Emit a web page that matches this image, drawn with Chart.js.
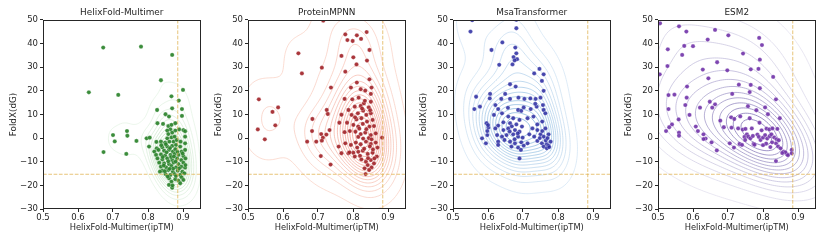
<!DOCTYPE html>
<html><head><meta charset="utf-8">
<script src="https://cdn.jsdelivr.net/npm/chart.js@4/dist/chart.umd.min.js"></script>
<style>
html,body{margin:0;padding:0;background:#fff;}
#wrap{position:relative;width:830px;height:242px;overflow:hidden;background:#fff;}
.p{position:absolute;top:0;width:205px;height:242px;}
</style></head><body>
<div id="wrap">
<div class="p" style="left:0"><canvas id="c0" width="205" height="242"></canvas></div>
<div class="p" style="left:205px"><canvas id="c1" width="205" height="242"></canvas></div>
<div class="p" style="left:410px"><canvas id="c2" width="205" height="242"></canvas></div>
<div class="p" style="left:615px"><canvas id="c3" width="205" height="242"></canvas></div>
</div>
<script>
// ---------------- DATA ----------------
const panelTitles = ["HelixFold-Multimer", "ProteinMPNN", "MsaTransformer", "ESM2"];
const xAxisLabel = "HelixFold-Multimer(ipTM)";
const yAxisLabel = "FoldX(dG)";
const xTicks = [0.5, 0.6, 0.7, 0.8, 0.9];
const yTicks = [-30, -20, -10, 0, 10, 20, 30, 40, 50];
const iptmCut = 0.885;
const foldxCut = -15.3;

const helixX = [0.672,0.780,0.869,0.631,0.715,0.837,0.900,0.867,0.888,0.869,0.897,0.826,0.897,0.850,0.700,0.705,0.740,0.741,0.767,0.673,0.738,0.796,0.805,0.803,0.824,
0.860,0.827,0.843,0.878,0.858,0.867,0.864,0.855,0.889,0.901,0.906,0.878,0.869,0.858,0.855,0.867,0.876,0.837,0.849,0.861,0.873,0.882,
0.825,0.841,0.855,0.869,0.880,0.892,0.818,0.830,0.846,0.860,0.871,0.878,0.896,0.906,0.823,0.837,0.849,0.864,0.876,0.887,0.901,
0.827,0.841,0.855,0.869,0.883,0.895,0.832,0.846,0.860,0.873,0.887,0.901,0.837,0.852,0.867,0.880,0.895,0.906,0.841,0.858,0.871,0.885,0.898,0.834,
0.850,0.864,0.876,0.892,0.860,0.878,0.896,0.867,0.887,0.901,0.860,0.869,0.892,0.906,0.906,0.907,0.907,0.904,
0.853,0.866,0.872,0.858,0.879,0.845,0.862,0.884,0.851,0.874,0.863,0.889,0.856,0.880,0.842,0.893,0.838,0.870,0.899,0.848];
const helixY = [38.3,38.7,35.2,19.4,18.3,24.5,20.4,17.7,15.9,12.6,12.3,11.9,9.4,10.1,1.3,-1.4,3.0,1.0,-1.2,-5.9,-6.7,-0.1,0.2,-3.6,-1.6,
9.1,6.3,6.0,6.3,5.1,5.6,3.7,3.2,3.7,3.4,2.9,3.2,2.3,1.7,-0.1,0.3,0.6,-1.5,-1.9,-1.5,-1.5,-0.8,
-4.3,-3.9,-3.6,-3.3,-2.9,-3.6,-5.7,-5.0,-5.3,-5.0,-5.7,-4.7,-5.7,-5.0,-7.1,-6.9,-7.4,-7.1,-6.7,-7.1,-7.6,
-8.6,-9.0,-8.6,-9.3,-8.6,-9.3,-10.4,-10.7,-11.0,-10.4,-11.0,-10.4,-12.1,-12.4,-11.8,-12.4,-12.1,-12.5,-13.8,-13.5,-14.2,-13.8,-14.2,-14.2,
-15.2,-15.6,-15.2,-15.6,-17.0,-17.4,-16.6,-18.4,-18.0,-17.7,-19.8,-21.0,-19.1,-2.2,0.6,-8.6,-11.4,-14.9,
-6.0,-8.0,-12.9,-9.8,-9.9,-11.6,-13.0,-5.8,-2.6,-7.8,-4.2,-12.8,-16.2,-16.0,-8.0,-1.5,-3.0,-20.0,-6.5,-14.0];

const mpnnX = [0.715,0.644,0.654,0.531,0.570,0.586,0.528,0.578,0.548,0.711,0.737,0.725,0.728,0.684,0.683,0.733,0.709,0.714,0.724,0.669,0.695,0.711,0.708,0.736,
0.778,0.784,0.799,0.811,0.823,0.839,0.847,0.767,0.801,0.840,0.810,0.778,0.847,0.811,0.794,0.822,0.853,0.835,0.851,0.776,0.798,0.816,0.851,0.831,0.845,0.822,0.805,
0.787,0.767,0.796,0.814,0.829,0.838,0.851,0.810,0.824,0.840,0.856,0.761,0.783,0.801,0.815,0.828,0.847,0.860,0.776,0.791,0.807,0.822,0.835,0.851,0.865,0.883,
0.759,0.778,0.794,0.808,0.822,0.837,0.851,0.865,0.870,0.767,0.787,0.801,0.815,0.828,0.842,0.856,0.868,0.805,0.824,0.837,0.851,0.860,0.842,0.853,0.833,0.846,0.836,
0.818,0.832,0.845,0.826,0.843,0.812,0.857,0.838,0.820,0.849,0.829,0.861,0.806,0.834,0.853,0.790,0.815,0.848];
const mpnnY = [49.7,35.9,27.4,16.4,11.1,13.0,3.7,5.4,-0.5,29.8,21.4,11.9,10.2,8.1,3.0,3.4,1.7,0.2,1.5,-1.5,-1.5,-1.1,-7.6,-11.2,
43.9,41.5,41.1,43.5,42.0,44.9,37.3,34.8,34.2,32.8,31.2,28.1,24.9,23.5,21.4,20.7,21.4,20.1,18.7,16.6,16.4,17.1,15.4,14.7,13.0,13.6,13.3,
11.9,9.9,9.8,10.5,11.6,9.8,10.5,7.9,8.4,7.0,7.7,6.5,6.5,5.6,4.9,6.0,4.9,5.1,2.5,3.0,2.7,1.7,2.3,1.3,2.0,0.2,
-3.6,-2.2,-2.9,-1.9,-2.6,-1.5,-2.5,-1.9,-4.0,-6.4,-6.4,-6.2,-5.8,-5.3,-6.7,-6.2,-7.8,-7.8,-9.0,-10.0,-9.3,-10.7,-11.4,-12.4,-12.8,-13.5,-15.2,
4.0,-4.5,0.0,12.5,-8.5,-4.0,-4.8,3.8,-7.5,11.8,-0.2,-8.6,8.8,15.8,-0.5,-6.0,0.5,-3.5];

const msaX = [0.555,0.681,0.550,0.681,0.641,0.610,0.678,0.681,0.673,0.683,0.676,0.632,0.670,0.747,0.732,0.759,0.754,0.663,0.679,0.759,0.606,0.649,
0.566,0.605,0.638,0.663,0.687,0.704,0.721,0.736,0.750,0.561,0.577,0.621,0.629,0.686,0.695,0.722,0.739,0.757,0.759,0.764,
0.617,0.640,0.658,0.672,0.690,0.713,0.730,0.596,0.629,0.644,0.663,0.681,0.697,0.741,0.755,0.601,0.621,0.644,0.658,0.677,0.690,0.727,0.741,0.764,
0.583,0.598,0.626,0.640,0.653,0.672,0.686,0.699,0.718,0.732,0.750,0.759,0.773,0.594,0.629,0.647,0.663,0.677,0.695,0.713,0.741,0.754,0.768,0.779,
0.629,0.667,0.686,0.702,0.759,0.773,0.768,0.690,
0.598,0.600,0.668,0.685,0.676,0.765,0.775,0.748,0.735,0.702,0.657,0.694,0.662,0.755,0.770];
const msaY = [49.9,50.1,45.1,46.5,40.5,37.3,38.3,35.9,34.3,33.4,32.9,31.0,31.2,29.3,27.4,27.0,24.2,22.8,21.8,20.0,18.7,18.7,
17.5,16.8,16.6,16.6,17.1,16.6,16.8,16.6,17.1,12.3,13.3,14.0,12.3,11.9,11.5,12.3,13.3,14.0,11.9,10.5,
9.8,10.5,9.1,8.4,7.7,8.4,9.1,6.3,5.3,6.7,6.3,5.8,4.9,5.8,7.0,4.4,4.1,3.4,4.1,3.4,2.7,4.1,3.4,4.1,
-0.1,1.3,1.3,0.6,1.3,1.6,0.6,0.2,1.6,0.6,1.6,0.6,1.6,-2.2,-1.5,-0.8,-1.5,-2.2,-1.8,-2.2,-1.2,-2.2,-2.6,-1.5,
-2.9,-3.6,-4.0,-3.2,-3.6,-3.2,-4.3,-8.6,
3.0,5.5,5.0,2.0,-0.5,-1.0,-3.8,0.0,14.5,13.0,12.8,-5.0,2.8,3.0,0.0];

const esmX = [0.506,0.560,0.581,0.663,0.505,0.528,0.527,0.575,0.600,0.569,0.642,0.701,0.789,0.797,0.743,0.791,0.669,0.628,0.698,0.644,0.765,0.787,0.829,0.583,
0.530,0.547,0.582,0.731,0.765,0.791,0.712,0.762,0.837,
0.648,0.663,0.655,0.578,0.620,0.530,0.590,0.757,0.781,0.806,0.709,0.718,0.735,0.762,0.814,0.848,0.559,0.678,0.688,0.540,0.532,0.523,0.608,
0.710,0.729,0.742,0.750,0.768,0.790,0.796,0.810,0.818,0.827,0.841,0.560,0.560,0.614,0.630,0.636,0.630,0.653,0.668,0.717,0.733,0.740,
0.747,0.754,0.749,0.758,0.764,0.771,0.773,0.784,0.788,0.793,0.800,0.806,0.812,0.819,0.824,0.832,0.839,0.809,0.821,0.837,0.843,0.850,
0.859,0.869,0.864,0.882,0.882,0.837,0.705,0.776,0.800,0.826,0.845,0.871,0.855];
const esmY = [48.6,47.3,45.1,45.8,27.0,37.6,30.5,39.0,38.9,35.2,41.7,43.5,42.4,39.4,35.8,33.2,32.1,29.0,28.7,25.3,29.1,29.3,25.9,21.8,
18.2,18.4,17.1,22.6,22.5,21.1,18.7,19.5,16.4,
15.4,14.3,12.9,14.0,12.9,12.3,9.8,13.5,11.8,13.0,8.8,8.1,9.2,8.4,10.1,8.4,7.9,7.4,4.6,5.8,4.6,3.0,4.9,
4.4,4.1,3.6,3.9,4.1,6.5,3.3,4.0,3.7,4.1,3.9,2.3,1.0,3.0,1.6,-0.2,-0.4,-1.8,-5.2,-4.0,-2.5,-2.9,
0.5,1.6,-0.8,0.6,-0.1,0.9,-2.5,1.5,0.5,-0.8,0.2,1.3,-0.2,0.8,1.6,0.3,-0.5,-2.3,-3.8,-2.2,-3.5,-4.3,
-5.7,-6.9,-6.0,-5.0,-6.4,-9.7,-2.2,-2.8,-3.0,-1.8,-0.9,-7.2,-6.3];

// ---------------- STYLE ----------------
const FONT = "'DejaVu Sans', sans-serif";
const TEXT = '#262626';
const X_MIN = 0.5, X_MAX = 0.95, Y_MIN = -30, Y_MAX = 50;
const panels = [
  {xs: helixX, ys: helixY, point: 'rgba(38,128,38,0.9)', light: [212,236,212], dark: [110,185,110], alpha: 0.6, bw: 1.1, lo: 0.05, n: 13},
  {xs: mpnnX, ys: mpnnY, point: 'rgba(160,32,38,0.9)', light: [248,198,182], dark: [236,115,95], alpha: 0.75, bw: 1.25, lo: 0.025, n: 16},
  {xs: msaX, ys: msaY, point: 'rgba(40,40,160,0.85)', light: [200,222,242], dark: [80,150,205], alpha: 0.75, bw: 1.45, lo: 0.03, n: 15},
  {xs: esmX, ys: esmY, point: 'rgba(112,50,168,0.9)', light: [222,220,236], dark: [105,88,168], alpha: 0.85, bw: 1.75, lo: 0.03, n: 14}
];

// ---------------- KDE (Gaussian, Scott bandwidth) ----------------
function computeKDE(xs, ys, nLevels, lo, bwAdj) {
  const n = xs.length;
  let mx = 0, my = 0;
  for (let i = 0; i < n; i++) { mx += xs[i]; my += ys[i]; }
  mx /= n; my /= n;
  let sxx = 0, syy = 0, sxy = 0;
  for (let i = 0; i < n; i++) { const dx = xs[i]-mx, dy = ys[i]-my; sxx += dx*dx; syy += dy*dy; sxy += dx*dy; }
  sxx /= (n-1); syy /= (n-1); sxy /= (n-1);
  const f2 = Math.pow(n, -1/3) * bwAdj * bwAdj;
  const a = sxx*f2, d = syy*f2, b = sxy*f2;
  const det = a*d - b*b;
  const ia = d/det, id = a/det, ib = -b/det;
  const bwx = Math.sqrt(a), bwy = Math.sqrt(d);
  const x0 = Math.min(...xs) - 3*bwx, x1 = Math.max(...xs) + 3*bwx;
  const y0 = Math.min(...ys) - 3*bwy, y1 = Math.max(...ys) + 3*bwy;
  const G = 150;
  const vals = new Float64Array(G*G);
  let vmax = 0;
  for (let j = 0; j < G; j++) {
    const gy = y0 + (y1-y0)*j/(G-1);
    for (let i = 0; i < G; i++) {
      const gx = x0 + (x1-x0)*i/(G-1);
      let s = 0;
      for (let k = 0; k < n; k++) {
        const dx = gx - xs[k], dy = gy - ys[k];
        s += Math.exp(-0.5*(ia*dx*dx + 2*ib*dx*dy + id*dy*dy));
      }
      vals[j*G+i] = s;
      if (s > vmax) vmax = s;
    }
  }
  const levels = [];
  for (let k = 0; k < nLevels; k++) levels.push(vmax * (lo + (1-lo)*k/nLevels));
  return {x0, x1, y0, y1, G, vals, levels};
}

const SEG = {1:[[3,0]],2:[[0,1]],3:[[3,1]],4:[[1,2]],5:[[3,0],[1,2]],6:[[0,2]],7:[[3,2]],8:[[2,3]],9:[[0,2]],10:[[0,1],[2,3]],11:[[1,2]],12:[[1,3]],13:[[0,1]],14:[[0,3]]};

const kdePlugin = {
  id: 'kdeContours',
  beforeDatasetsDraw(chart, args, opts) {
    const g = opts.grid; if (!g) return;
    const {ctx, chartArea, scales} = chart;
    const xs = scales.x, ys = scales.y;
    const G = g.G, V = g.vals;
    const px = new Float64Array(G), py = new Float64Array(G);
    for (let i = 0; i < G; i++) px[i] = xs.getPixelForValue(g.x0 + (g.x1-g.x0)*i/(G-1));
    for (let j = 0; j < G; j++) py[j] = ys.getPixelForValue(g.y0 + (g.y1-g.y0)*j/(G-1));
    const dxp = px[1]-px[0], dyp = py[1]-py[0];
    ctx.save();
    ctx.beginPath();
    ctx.rect(chartArea.left, chartArea.top, chartArea.right-chartArea.left, chartArea.bottom-chartArea.top);
    ctx.clip();
    ctx.lineWidth = 0.8;
    const L = g.levels.length;
    for (let li = 0; li < L; li++) {
      const lv = g.levels[li];
      const t = L > 1 ? li/(L-1) : 1;
      const col = opts.light.map((v,k)=>Math.round(v + (opts.dark[k]-v)*t));
      ctx.strokeStyle = `rgba(${col[0]},${col[1]},${col[2]},${opts.alpha})`;
      ctx.beginPath();
      for (let j = 0; j < G-1; j++) {
        for (let i = 0; i < G-1; i++) {
          const v0 = V[j*G+i], v1 = V[j*G+i+1], v2 = V[(j+1)*G+i+1], v3 = V[(j+1)*G+i];
          const idx = (v0>lv?1:0)|(v1>lv?2:0)|(v2>lv?4:0)|(v3>lv?8:0);
          if (idx === 0 || idx === 15) continue;
          const pt = (e) => {
            let t2;
            switch (e) {
              case 0: t2 = (lv-v0)/(v1-v0); return [px[i]+dxp*t2, py[j]];
              case 1: t2 = (lv-v1)/(v2-v1); return [px[i+1], py[j]+dyp*t2];
              case 2: t2 = (lv-v3)/(v2-v3); return [px[i]+dxp*t2, py[j+1]];
              default: t2 = (lv-v0)/(v3-v0); return [px[i], py[j]+dyp*t2];
            }
          };
          for (const s of SEG[idx]) {
            const a = pt(s[0]), b = pt(s[1]);
            ctx.moveTo(a[0], a[1]); ctx.lineTo(b[0], b[1]);
          }
        }
      }
      ctx.stroke();
    }
    ctx.restore();
  }
};

const framePlugin = {
  id: 'frame',
  afterDraw(chart) {
    const {ctx, chartArea: a} = chart;
    ctx.save();
    ctx.strokeStyle = TEXT;
    ctx.lineWidth = 1;
    ctx.strokeRect(Math.round(a.left)+0.5, Math.round(a.top)+0.5, Math.round(a.right-a.left)-1, Math.round(a.bottom-a.top)-1);
    ctx.restore();
  }
};

const fmtY = v => (v < 0 ? '\u2212' + Math.abs(v) : String(v));
const CUT_COLOR = 'rgba(222,175,70,0.72)';

panels.forEach((p, k) => {
  const grid = computeKDE(p.xs, p.ys, p.n, p.lo, p.bw);
  new Chart(document.getElementById('c' + k), {
    type: 'scatter',
    data: {
      datasets: [
        {data: [{x: iptmCut, y: Y_MIN}, {x: iptmCut, y: Y_MAX}], showLine: true, borderColor: CUT_COLOR, borderWidth: 1, borderDash: [3.7, 1.6], pointRadius: 0, order: 0},
        {data: [{x: X_MIN, y: foldxCut}, {x: X_MAX, y: foldxCut}], showLine: true, borderColor: CUT_COLOR, borderWidth: 1, borderDash: [3.7, 1.6], pointRadius: 0, order: 0},
        {data: p.xs.map((x, i) => ({x, y: p.ys[i]})), backgroundColor: p.point, borderColor: 'rgba(255,255,255,0.55)', borderWidth: 0.5, pointRadius: 2.15, order: 1}
      ]
    },
    options: {
      responsive: false, animation: false, devicePixelRatio: 1,
      layout: {padding: {left: 0, right: 0, top: 0, bottom: 0}},
      plugins: {
        legend: {display: false}, tooltip: {enabled: false},
        title: {display: true, text: panelTitles[k], fullSize: false, color: TEXT, font: {family: FONT, size: 8.9, weight: 'normal'}, padding: {top: 7.6, bottom: 1.7}},
        kdeContours: {grid, light: p.light, dark: p.dark, alpha: p.alpha}
      },
      scales: {
        x: {
          type: 'linear', min: X_MIN, max: X_MAX,
          afterBuildTicks: s => { s.ticks = xTicks.map(v => ({value: v})); },
          ticks: {color: TEXT, font: {family: FONT, size: 8.5}, padding: 1, maxRotation: 0, autoSkip: false, callback: v => v.toFixed(1)},
          grid: {drawOnChartArea: false, drawTicks: true, tickLength: 3, color: TEXT},
          border: {display: false},
          title: {display: true, text: xAxisLabel, color: TEXT, font: {family: FONT, size: 8.3}, padding: {top: 0, bottom: 8.9}},
          afterFit: s => { s.height = 33; }
        },
        y: {
          type: 'linear', min: Y_MIN, max: Y_MAX,
          afterBuildTicks: s => { s.ticks = yTicks.map(v => ({value: v})); },
          ticks: {color: TEXT, font: {family: FONT, size: 8.5}, padding: 2, autoSkip: false, callback: fmtY},
          grid: {drawOnChartArea: false, drawTicks: true, tickLength: 3, color: TEXT},
          border: {display: false},
          title: {display: true, text: yAxisLabel, color: TEXT, font: {family: FONT, size: 8.8}, padding: {top: 8.8, bottom: 0}},
          afterFit: s => { s.width = 43; }
        }
      }
    },
    plugins: [kdePlugin, framePlugin]
  });
});
</script>
</body></html>
